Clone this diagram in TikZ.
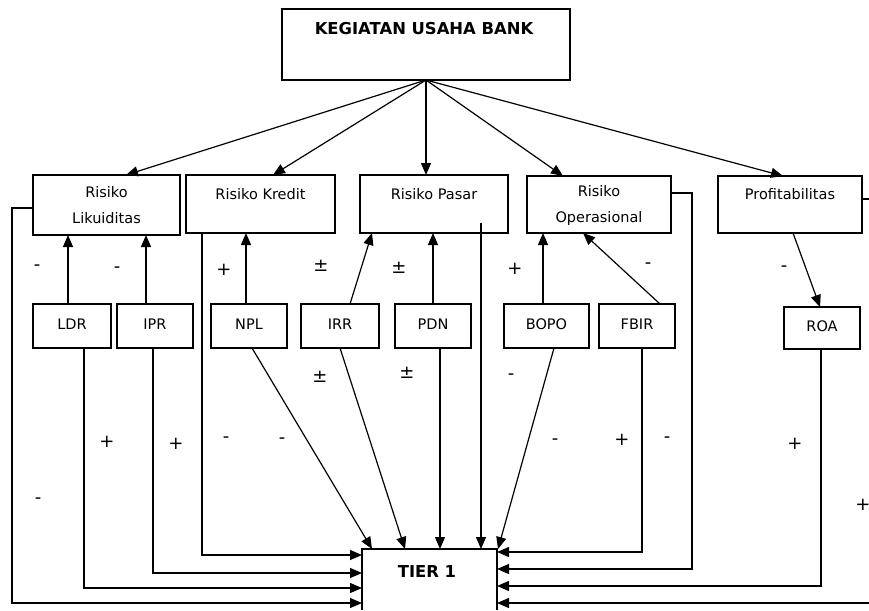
\documentclass[tikz,border=0pt]{standalone}
\usepackage{fontspec}
\setmainfont{DejaVu Sans}
\usetikzlibrary{arrows.meta}
\begin{document}
\begin{tikzpicture}[x=1pt,y=-1pt,
  box/.style={draw, line width=1.2pt, inner sep=0pt, outer sep=0pt},
  txt/.style={font=\fontsize{14.5}{25.5}\selectfont, align=center, inner sep=0pt},
  ttl/.style={font=\fontsize{16.4}{18}\selectfont\bfseries, inner sep=0pt},
  sgn/.style={font=\fontsize{18}{20}\selectfont, inner sep=0pt},
  conn/.style={line width=1.2pt, -{Triangle[length=12pt,width=10pt]}},
  wire/.style={line width=1.2pt}]
\useasboundingbox (0,0) rectangle (869,610);
\clip (0,0) rectangle (869,610);
% boxes
\node[box, minimum width=288pt, minimum height=71pt] (keg) at (426,44.5) {};
\node[box, minimum width=147pt, minimum height=60pt] (lik) at (106.5,205) {};
\node[box, minimum width=149pt, minimum height=58pt] (kre) at (260.5,204) {};
\node[box, minimum width=148pt, minimum height=58pt] (pas) at (434,204) {};
\node[box, minimum width=144pt, minimum height=57pt] (ope) at (599,204.5) {};
\node[box, minimum width=144pt, minimum height=57pt] (pro) at (790,204.5) {};
\node[box, minimum width=78pt, minimum height=44pt] (ldr) at (72,326) {};
\node[box, minimum width=76pt, minimum height=44pt] (ipr) at (155,326) {};
\node[box, minimum width=76pt, minimum height=44pt] (npl) at (249,326) {};
\node[box, minimum width=78pt, minimum height=44pt] (irr) at (340,326) {};
\node[box, minimum width=76pt, minimum height=44pt] (pdn) at (433,326) {};
\node[box, minimum width=85pt, minimum height=44pt] (bopo) at (546.5,326) {};
\node[box, minimum width=76pt, minimum height=44pt] (fbir) at (637,326) {};
\node[box, minimum width=76pt, minimum height=42pt] (roa) at (822,328) {};
\node[inner sep=0pt, outer sep=0pt, minimum width=135pt, minimum height=61pt] (tier) at (429.5,579.5) {};
\draw[wire] (tier.south west) -- (tier.north west) -- (tier.north east) -- (tier.south east);
% texts
\node[ttl] (t-keg) at (424,29) {KEGIATAN USAHA BANK};
\node[txt] (t-lik) at (lik.center) {Risiko\\Likuiditas};
\node[txt] (t-kre) at ([yshift=10pt]kre.center) {Risiko Kredit};
\node[txt] (t-pas) at ([yshift=10pt]pas.center) {Risiko Pasar};
\node[txt] (t-ope) at ([yshift=-1pt]ope.center) {Risiko\\Operasional};
\node[txt] (t-pro) at ([yshift=10pt]pro.center) {Profitabilitas};
\node[txt] (t-ldr) at ([yshift=2pt]ldr.center) {LDR};
\node[txt] (t-ipr) at ([yshift=2pt]ipr.center) {IPR};
\node[txt] (t-npl) at ([yshift=2pt]npl.center) {NPL};
\node[txt] (t-irr) at ([yshift=2pt]irr.center) {IRR};
\node[txt] (t-pdn) at ([yshift=2pt]pdn.center) {PDN};
\node[txt] (t-bopo) at ([yshift=2pt]bopo.center) {BOPO};
\node[txt] (t-fbir) at ([yshift=2pt]fbir.center) {FBIR};
\node[txt] (t-roa) at ([yshift=2pt]roa.center) {ROA};
\node[ttl] (t-tier) at (427,572) {TIER 1};
% top arrows
\draw[conn] (keg.south) -- ([xshift=19.5pt]lik.north);
\draw[conn] (keg.south) -- ([xshift=12.5pt]kre.north);
\draw[conn] (keg.south) -- ([xshift=-8pt]pas.north);
\draw[conn] (keg.south) -- ([xshift=-36pt]ope.north);
\draw[conn] (keg.south) -- ([xshift=-7pt]pro.north);
% indicators to risks
\draw[conn] ([xshift=-4pt]ldr.north) coordinate (c1) -- (c1 |- lik.south);
\draw[conn] ([xshift=-9pt]ipr.north) coordinate (c2) -- (c2 |- lik.south);
\draw[conn] ([xshift=-3pt]npl.north) coordinate (c3) -- (c3 |- kre.south);
\draw[conn] ([xshift=10pt]irr.north) -- ([xshift=-62pt]pas.south);
\draw[conn] (pdn.north) -- (pas.south -| pdn.north);
\draw[conn] ([xshift=-3.5pt]bopo.north) coordinate (c4) -- (c4 |- ope.south);
\draw[conn] ([xshift=23pt]fbir.north) -- ([xshift=-16pt]ope.south);
\draw[conn] ([xshift=3pt]pro.south) -- ([xshift=-2pt]roa.north);
% arrows down into TIER 1
\draw[conn] ([xshift=3pt]npl.south) -- ([xshift=10pt]tier.north west);
\draw[conn] (irr.south) -- ([xshift=43pt]tier.north west);
\draw[conn] ([xshift=7pt]pdn.south) coordinate (c5) -- (c5 |- tier.north);
\draw[conn] ([xshift=47pt,yshift=-19pt]pas.center) coordinate (c6) -- (c6 |- tier.north);
\draw[conn] ([xshift=7.5pt]bopo.south) -- ([xshift=1pt]tier.north east);
% left side into TIER 1
\draw[conn] ([xshift=-58.5pt]kre.south) |- ([yshift=-6pt]tier.north west);
\draw[conn] ([xshift=-2pt]ipr.south) |- ([yshift=-24pt]tier.north west);
\draw[conn] ([xshift=12pt]ldr.south) |- ([yshift=-39pt]tier.north west);
\coordinate (cL) at (12,208);
\draw[conn] ([yshift=-3pt]lik.west) -- (cL) |- ([yshift=-54pt]tier.north west);
% right side into TIER 1
\draw[conn] ([xshift=5pt]fbir.south) |- ([yshift=-3pt]tier.north east);
\coordinate (cO) at (692,193);
\draw[conn] ([yshift=11.5pt]ope.east) -- (cO) |- ([yshift=-20pt]tier.north east);
\draw[conn] ([xshift=-1pt]roa.south) |- ([yshift=-37pt]tier.north east);
\coordinate (cP) at (885,199);
\draw[conn] ([yshift=5.5pt]pro.east) -- (cP) |- ([yshift=-54pt]tier.north east);
% signs, upper layer
\node[sgn] (a1) at (37,268) {-};
\node[sgn] (a2) at (117,270) {-};
\node[sgn] (a3) at (224,270) {+};
\node[sgn] (a4) at (321,266) {±};
\node[sgn] (a5) at (399,268) {±};
\node[sgn] (a6) at (515,269) {+};
\node[sgn] (a7) at (648,266) {-};
\node[sgn] (a8) at (784,269) {-};
% signs, lower layer
\node[sgn] (b1) at (107,442) {+};
\node[sgn] (b2) at (176,444) {+};
\node[sgn] (b3) at (226,440) {-};
\node[sgn] (b4) at (282,441) {-};
\node[sgn] (b5) at (38,501) {-};
\node[sgn] (b6) at (320,377) {±};
\node[sgn] (b7) at (407,373) {±};
\node[sgn] (b8) at (511,377) {-};
\node[sgn] (b9) at (555,442) {-};
\node[sgn] (b10) at (622,440) {+};
\node[sgn] (b11) at (667,440) {-};
\node[sgn] (b12) at (795,444) {+};
\node[sgn] (b13) at (863,505) {+};
\end{tikzpicture}
\end{document}
